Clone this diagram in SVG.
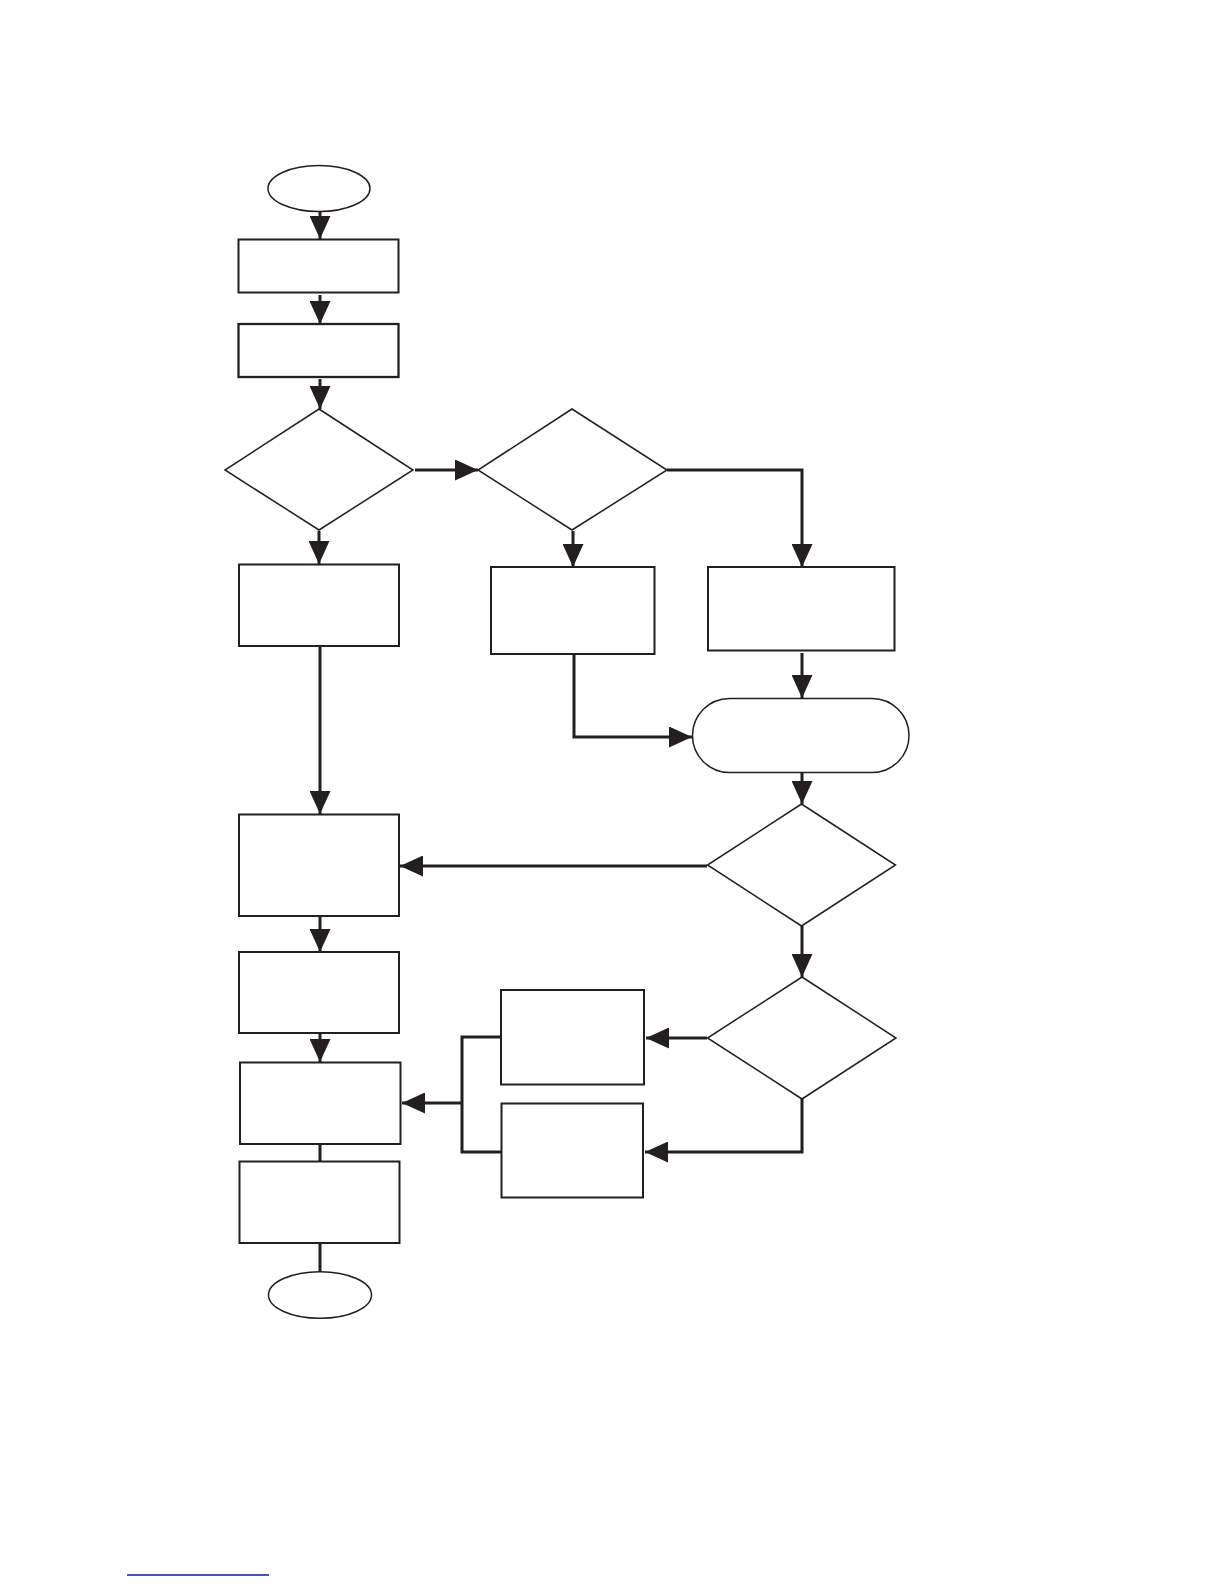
<svg xmlns="http://www.w3.org/2000/svg" width="1224" height="1584" viewBox="0 0 1224 1584">
<style>
.n{fill:#fff;stroke:#231f20;stroke-width:2}
.d{fill:#fff;stroke:#231f20;stroke-width:1.5}
.c{fill:none;stroke:#231f20;stroke-width:3;stroke-linejoin:miter}
</style>
<defs>
<marker id="ah" markerUnits="userSpaceOnUse" markerWidth="23" markerHeight="21" refX="23" refY="10.5" orient="auto">
<path d="M0,0 L23,10.5 L0,21 z" fill="#231f20"/>
</marker>
</defs>
<rect width="1224" height="1584" fill="#fff"/>
<g id="connectors">
<path class="c" d="M320,212 V239" marker-end="url(#ah)"/>
<path class="c" d="M320,295 V324" marker-end="url(#ah)"/>
<path class="c" d="M320,379 V409" marker-end="url(#ah)"/>
<path class="c" d="M415,470 H478" marker-end="url(#ah)"/>
<path class="c" d="M319,531 V564" marker-end="url(#ah)"/>
<path class="c" d="M573,531 V567" marker-end="url(#ah)"/>
<path class="c" d="M667,470 H802 V567" marker-end="url(#ah)"/>
<path class="c" d="M320,646 V814" marker-end="url(#ah)"/>
<path class="c" d="M802,653 V698" marker-end="url(#ah)"/>
<path class="c" d="M574,654 V737 H692" marker-end="url(#ah)"/>
<path class="c" d="M802,772 V804" marker-end="url(#ah)"/>
<path class="c" d="M707,866 H400" marker-end="url(#ah)"/>
<path class="c" d="M802,926 V977" marker-end="url(#ah)"/>
<path class="c" d="M707,1038 H646" marker-end="url(#ah)"/>
<path class="c" d="M802,1099 V1152 H645" marker-end="url(#ah)"/>
<path class="c" d="M320,916 V952" marker-end="url(#ah)"/>
<path class="c" d="M320,1033 V1062" marker-end="url(#ah)"/>
<path class="c" d="M501,1037 H462 V1152 H502"/>
<path class="c" d="M462,1103 H402" marker-end="url(#ah)"/>
<path class="c" d="M320,1144 V1161"/>
<path class="c" d="M320,1243 V1272"/>
</g>
<g id="start"><ellipse class="d" cx="319" cy="188.5" rx="51" ry="23"/></g>
<g id="step1"><rect class="n" x="238.5" y="239.5" width="160" height="53"/></g>
<g id="step2"><rect class="n" x="238.5" y="324" width="160" height="53" style="stroke-width:2.3"/></g>
<g id="decision1"><polygon class="d" points="319,409 413,470 319,530 225,470"/></g>
<g id="decision2"><polygon class="d" points="572,409 667,470 572,530 478,470"/></g>
<g id="box-left"><rect class="n" x="239" y="564.5" width="160" height="81.5"/></g>
<g id="box-mid"><rect class="n" x="491" y="567" width="163.5" height="87"/></g>
<g id="box-right"><rect class="n" x="708" y="567" width="186.5" height="83.5"/></g>
<g id="process-rounded"><rect class="d" x="692.5" y="698.5" width="216.5" height="74" rx="37" ry="37"/></g>
<g id="decision3"><polygon class="d" points="801.5,804 895.5,865 801.5,926 707.5,865"/></g>
<g id="decision4"><polygon class="d" points="802,977 896,1038 802,1099 707.5,1038"/></g>
<g id="box6"><rect class="n" x="239" y="814.5" width="160" height="101.5"/></g>
<g id="box7"><rect class="n" x="239" y="952" width="160" height="81"/></g>
<g id="box8"><rect class="n" x="240" y="1062.5" width="160.5" height="81.5"/></g>
<g id="box9"><rect class="n" x="239.5" y="1161.5" width="160" height="81.5"/></g>
<g id="box10"><rect class="n" x="501" y="990" width="143" height="94.5"/></g>
<g id="box11"><rect class="n" x="501.5" y="1103.5" width="141.5" height="94"/></g>
<g id="end"><ellipse class="d" cx="320" cy="1295" rx="51.5" ry="23.3"/></g>
<line x1="127" y1="1575" x2="269" y2="1575" stroke="#1a1a9a" stroke-width="1.5"/>
</svg>
